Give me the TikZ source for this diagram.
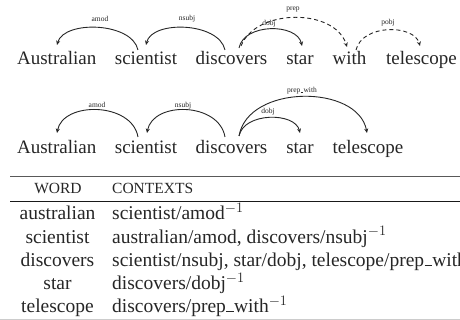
\documentclass[tikz,border=0pt]{standalone}
\usepackage{fontspec}
\setmainfont{Liberation Serif}
\usetikzlibrary{arrows.meta}
\newcommand\shortus{\kern0.02em\rule[0.02em]{0.38em}{0.055em}\kern0.02em}
\begin{document}
\begin{tikzpicture}[x=1pt,y=-1pt,
  word/.style={anchor=base,inner sep=0pt,font=\fontsize{19}{22}\selectfont,text=black!85},
  lbl/.style={inner sep=0pt,font=\fontsize{7.5}{8}\selectfont,text=black!85},
  deparc/.style={line width=0.9pt,draw=black!85,-{Stealth[length=4.5pt,width=4pt]}},
  dasharc/.style={deparc,dash pattern=on 4pt off 3pt},
  cellw/.style={anchor=base,inner sep=0pt,font=\fontsize{19.5}{22}\selectfont,text=black!85},
  cellc/.style={anchor=base west,inner sep=0pt,font=\fontsize{19.5}{22}\selectfont,text=black!85},
  headw/.style={anchor=base,inner sep=0pt,font=\fontsize{15.5}{18}\selectfont,text=black!85},
  headc/.style={anchor=base west,inner sep=0pt,font=\fontsize{15.5}{18}\selectfont,text=black!85},
]
\clip (0,0) rectangle (460,320);
\fill[white] (0,0) rectangle (460,320);

% ---------- first sentence ----------
\node[word] (wa1) at (56.7,65) {Australian};
\node[word] (wb1) at (146,65) {scientist};
\node[word] (wc1) at (231.5,65) {discovers};
\node[word] (wd1) at (300,65) {star};
\node[word] (we1) at (349.5,65) {with};
\node[word] (wf1) at (421.5,65) {telescope};

\coordinate (amodS1) at (138,50);  \coordinate (amodT1) at (57,45);
\coordinate (nsubjS1) at (225,50); \coordinate (nsubjT1) at (146,45);
\coordinate (dobjS1) at (239,48);  \coordinate (dobjT1) at (302,46);
\coordinate (prepS1) at (241,46);  \coordinate (prepT1) at (347,47);
\coordinate (pobjS1) at (356,50);  \coordinate (pobjT1) at (420,46);

\draw[deparc] (amodS1) .. controls (132,22) and (64,20) .. (amodT1);
\draw[deparc] (nsubjS1) .. controls (219,22) and (152,20) .. (nsubjT1);
\draw[deparc] (dobjS1) .. controls (244,23) and (297,23) .. (dobjT1);
\draw[dasharc] (prepS1) .. controls (256,8) and (335,8) .. (prepT1);
\draw[dasharc] (pobjS1) .. controls (362,24) and (414,24) .. (pobjT1);

\node[lbl] (la1) at (100,19) {amod};
\node[lbl] (lb1) at (187,19) {nsubj};
\node[lbl] (lc1) at (269,24) {dobj};
\node[lbl] (ld1) at (293,10) {prep};
\node[lbl] (le1) at (388,23) {pobj};

% ---------- second sentence ----------
\node[word] (wa2) at (56.7,154) {Australian};
\node[word] (wb2) at (146,154) {scientist};
\node[word] (wc2) at (231.5,154) {discovers};
\node[word] (wd2) at (300,154) {star};
\node[word] (wf2) at (368,154) {telescope};

\coordinate (amodS2) at (138,137);  \coordinate (amodT2) at (57,133);
\coordinate (nsubjS2) at (225,137); \coordinate (nsubjT2) at (147,133);
\coordinate (dobjS2) at (239,136);  \coordinate (dobjT2) at (300,133);
\coordinate (pwS2) at (239,136);    \coordinate (pwT2) at (367,133);

\draw[deparc] (amodS2) .. controls (132,102) and (63,101) .. (amodT2);
\draw[deparc] (nsubjS2) .. controls (219,102) and (153,101) .. (nsubjT2);
\draw[deparc] (dobjS2) .. controls (244,112) and (295,112) .. (dobjT2);
\draw[deparc] (pwS2) .. controls (248,84) and (358,84) .. (pwT2);

\node[lbl] (la2) at (97,105) {amod};
\node[lbl] (lb2) at (183,106) {nsubj};
\node[lbl] (lc2) at (268,112) {dobj};
\node[lbl] (ld2) at (302,91) {prep\shortus with};

% ---------- table ----------
\draw[line width=1.6pt,black!65] (10,176.7) -- (470,176.7);
\node[headw] (hw) at (58,194) {WORD};
\node[headc] (hc) at (112,194) {CONTEXTS};
\draw[line width=1pt,black!90] (10,202) -- (470,202);

\node[cellw] (r1w) at (57.5,220) {australian};
\node[cellc] (r1c) at (112,220) {scientist/amod$^{-1}$};
\node[cellw] (r2w) at (57.5,243.2) {scientist};
\node[cellc] (r2c) at (112,243.2) {australian/amod, discovers/nsubj$^{-1}$};
\node[cellw] (r3w) at (57.5,266.4) {discovers};
\node[cellc] (r3c) at (112,266.4) {scientist/nsubj, star/dobj, telescope/prep\shortus with};
\node[cellw] (r4w) at (57.5,289.6) {star};
\node[cellc] (r4c) at (112,289.6) {discovers/dobj$^{-1}$};
\node[cellw] (r5w) at (57.5,312.8) {telescope};
\node[cellc] (r5c) at (112,312.8) {discovers/prep\shortus with$^{-1}$};

\draw[line width=0.6pt,black!20] (0,319.3) -- (460,319.3);
\end{tikzpicture}
\end{document}
